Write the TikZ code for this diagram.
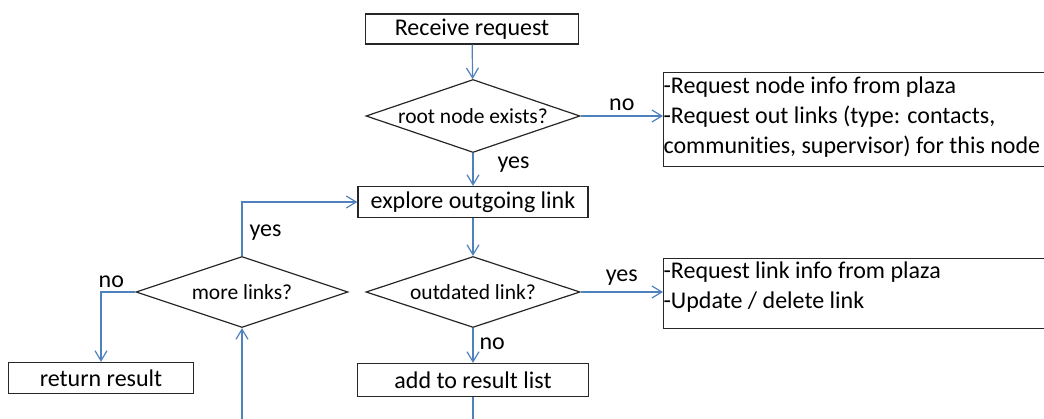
\documentclass[tikz,border=0pt]{standalone}
\usepackage{fontspec}
\setmainfont[Ligatures=CommonOff]{Carlito}
\usetikzlibrary{shapes.geometric,arrows.meta}

\begin{document}
\begin{tikzpicture}[x=1pt,y=-1pt,
    every node/.style={font=\fontsize{24}{30}\selectfont},
    box/.style={draw=black!85, line width=1.2pt, inner sep=0pt},
    ask/.style={draw=black!85, line width=1.2pt, diamond, inner sep=0pt, aspect=2.9,
      font=\fontsize{21.5}{26}\selectfont},
    todo/.style={box, anchor=north west, text width=381pt, align=flush left},
    link/.style={draw={rgb,255:red,79;green,129;blue,189}, line width=1.2pt,
      -{Straight Barb[length=10pt,width=12pt]}},
    lbl/.style={inner sep=0pt}]
    \useasboundingbox (0,0) rectangle (1044,419);
    \node[box, minimum width=213pt, minimum height=30pt] (recv) at (472,29) {Receive request};
    \node[ask, minimum width=214pt, minimum height=73pt] (root) at (473,116) {root node exists?};
    \node[todo, text height=21pt, text depth=73pt] (fetch) at (663,72)
      {-Request node info from plaza\\-Request out links (type: contacts,\\communities, supervisor) for this node};
    \node[box, minimum width=230pt, minimum height=31pt] (explore) at (473,202) {explore outgoing link};
    \node[ask, minimum width=214pt, minimum height=71pt] (old) at (473,292) {outdated link?};
    \node[todo, text height=20pt, text depth=50pt] (update) at (663,258)
      {-Request link info from plaza\\-Update / delete link};
    \node[ask, minimum width=212pt, minimum height=71pt] (more) at (242,292) {more links?};
    \node[box, minimum width=231pt, minimum height=33pt] (add) at (473,380) {add to result list};
    \node[box, minimum width=185pt, minimum height=31pt] (ret) at (101,378) {return result};
    \coordinate (loop) at (242,419);
    \coordinate (down) at (473,419);

    \draw[link] (recv) -- (root);
    \draw[link] (root) -- node[lbl, above=5pt] {no} (fetch.west |- root);
    \draw[link] (root) -- node[lbl, right=24pt, pos=0.35] {yes} (explore);
    \draw[link] (explore) -- (old);
    \draw[link] (old) -- node[lbl, above=6pt] {yes} (update.west |- old);
    \draw[link] (old) -- node[lbl, right=6pt, pos=0.45] {no} (add);
    \draw[link, -] (add) -- (down);
    \draw[link] (loop) -- (more);
    \draw[link] (more.north) |- node[lbl, right=7pt, pos=0.22] {yes} (explore.west);
    \draw[link] (more.west) -| node[lbl, above=4pt, pos=0.35] {no} (ret.north);
\end{tikzpicture}
\end{document}
